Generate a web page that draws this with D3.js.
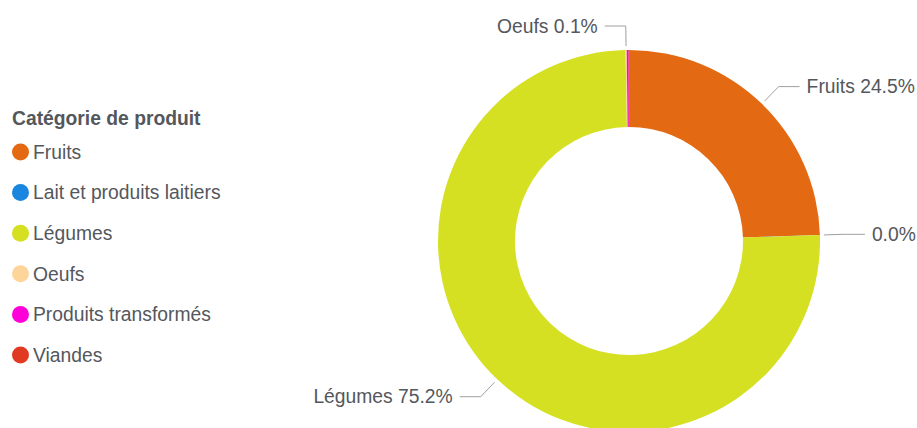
<!DOCTYPE html>
<html>
<head>
<meta charset="utf-8">
<script src="https://cdn.jsdelivr.net/npm/d3@7"></script>
<style>
  body { margin: 0; background: #fff; }
  svg { display: block; font-family: Arial, "Liberation Sans", sans-serif; }
</style>
</head>
<body>
<svg id="chart" width="917" height="428"></svg>
<script>
// share of each product category (percent)
var categories = ["Fruits", "Lait et produits laitiers", "Légumes", "Oeufs", "Produits transformés", "Viandes"];
var values = [24.5, 0.01, 75.2, 0.1, 0.16, 0.03];
var colors = ["#e36912", "#1a86e0", "#d4e021", "#fdd59a", "#ff00d8", "#e03b22"];
// text in front of the percentage on the slice label, null = no label
var labelNames = ["Fruits", "", "Légumes", "Oeufs", null, null];
var legendTitle = "Catégorie de produit";

var svg = d3.select("#chart");
var cx = 629, cy = 241, rOut = 191, rIn = 114;
var total = d3.sum(values);
var fmt = d3.format(".1f");

var data = categories.map(function(c, i) {
    return { name: c, value: values[i], color: colors[i], label: labelNames[i] };
});

var pie = d3.pie().sort(null).value(function(d) { return d.value; });
var arc = d3.arc().innerRadius(rIn).outerRadius(rOut);

var g = svg.append("g").attr("transform", "translate(" + cx + "," + cy + ")");
var arcs = pie(data);

g.selectAll("path.slice")
    .data(arcs)
  .enter().append("path")
    .attr("class", "slice")
    .attr("d", arc)
    .attr("fill", function(d) { return d.data.color; });

// leader lines + labels
var r1 = 195, r2 = 215, ext = 21, gap = 7;
arcs.filter(function(d) { return d.data.label !== null; }).forEach(function(d) {
    var a = (d.startAngle + d.endAngle) / 2;
    var side = Math.sin(a) >= 0 ? 1 : -1;
    var p1 = [r1 * Math.sin(a), -r1 * Math.cos(a)];
    var p2 = [r2 * Math.sin(a), -r2 * Math.cos(a)];
    var p3 = [p2[0] + side * ext, p2[1]];
    g.append("polyline")
        .attr("points", [p1, p2, p3].map(function(p) { return p.join(","); }).join(" "))
        .attr("fill", "none")
        .attr("stroke", "#a0a0a0")
        .attr("stroke-width", 1);
    var txt = (d.data.label ? d.data.label + " " : "") + fmt(d.data.value / total * 100) + "%";
    g.append("text")
        .attr("x", p3[0] + side * gap)
        .attr("y", p3[1])
        .attr("dy", "0.35em")
        .attr("text-anchor", side > 0 ? "start" : "end")
        .attr("fill", "#54575c")
        .style("font-size", "19.3px")
        .text(txt);
});

// legend
var leg = svg.append("g").attr("transform", "translate(12,0)");
leg.append("text")
    .attr("x", 0).attr("y", 118).attr("dy", "0.35em")
    .attr("fill", "#54575c")
    .style("font-size", "19.3px")
    .style("font-weight", "bold")
    .text(legendTitle);

var y = d3.scalePoint().domain(categories).range([152, 355]);
var item = leg.selectAll("g.item")
    .data(data)
  .enter().append("g")
    .attr("class", "item")
    .attr("transform", function(d) { return "translate(0," + y(d.name) + ")"; });
item.append("circle")
    .attr("cx", 8.5).attr("cy", 0).attr("r", 8.5)
    .attr("fill", function(d) { return d.color; });
item.append("text")
    .attr("x", 21).attr("y", 0).attr("dy", "0.35em")
    .attr("fill", "#54575c")
    .style("font-size", "19.3px")
    .text(function(d) { return d.name; });
</script>
</body>
</html>
